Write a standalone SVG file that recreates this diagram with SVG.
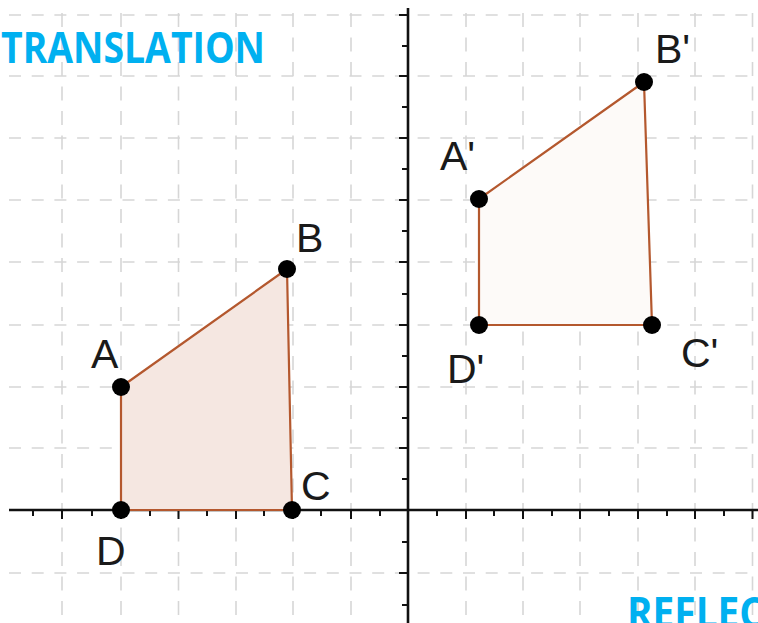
<svg xmlns="http://www.w3.org/2000/svg" width="758" height="623" viewBox="0 0 758 623">
<style>
.gh{stroke:#d6d6d6;stroke-width:1.6;stroke-dasharray:12 10.7;fill:none}
.gv{stroke:#d6d6d6;stroke-width:1.6;stroke-dasharray:14 10.5;fill:none}
.axis{stroke:#111;stroke-width:2.6;fill:none}
.tick{stroke:#111;stroke-width:2;fill:none}
.poly{stroke:#b4582e;stroke-width:2.2;stroke-linejoin:round}
.pt{fill:#000}
.lbl{font-family:"Liberation Sans",Arial,sans-serif;font-size:41px;fill:#1a1a1a}
.title{font-family:"Open Sans","Liberation Sans",sans-serif;font-weight:bold;font-size:43px;fill:#00b0f0}
</style>
<rect width="758" height="623" fill="#fff"/>
<g id="grid">
<path class="gh" d="M9 15H758M9 76H758M9 138H758M9 200H758M9 262H758M9 325H758M9 387H758M9 448H758M9 573H758"/>
<path class="gv" d="M62 13V623M121 13V623M178.5 13V623M236 13V623M293 13V623M351 13V623M466 13V623M523 13V623M580 13V623M638 13V623M695 13V623M752.5 13V623"/>
</g>
<g id="axes">
<path class="axis" d="M9 510H758M408 8V623"/>
<path class="tick" d="M33 510v6M62 510v9M92 510v6M121 510v9M150 510v6M178.5 510v9M207 510v6M236 510v9M264 510v6M293 510v9M321 510v6M351 510v9M380 510v6M437 510v6M466 510v9M494 510v6M523 510v9M552 510v6M580 510v9M609 510v6M638 510v9M667 510v6M695 510v9M724 510v6M752.5 510v9"/>
<path class="tick" d="M408 15h-9M408 46h-6M408 76h-9M408 107h-6M408 138h-9M408 169h-6M408 200h-9M408 231h-6M408 262h-9M408 294h-6M408 325h-9M408 356h-6M408 387h-9M408 418h-6M408 448h-9M408 479h-6M408 542h-6M408 573h-9M408 605h-6"/>
</g>
<g id="titles">
<text class="title" x="1" y="63" textLength="264" lengthAdjust="spacingAndGlyphs">TRANSLATION</text>
<text class="title" x="627" y="628" textLength="137" lengthAdjust="spacingAndGlyphs">REFLEC</text>
</g>
<g id="connectors">
<polygon class="poly" fill="#f5e7e1" points="121,387 287,269 292,510 121,510"/>
<polygon class="poly" fill="#fdfaf8" points="479,199 644,82 652,325 479,325"/>
</g>
<g id="node-A"><circle class="pt" cx="121" cy="387" r="9"/><text class="lbl" x="91" y="368">A</text></g>
<g id="node-B"><circle class="pt" cx="287" cy="269" r="9"/><text class="lbl" x="296" y="252">B</text></g>
<g id="node-C"><circle class="pt" cx="292" cy="510" r="9"/><text class="lbl" x="301" y="500">C</text></g>
<g id="node-D"><circle class="pt" cx="121" cy="510" r="9"/><text class="lbl" x="96" y="565">D</text></g>
<g id="node-A1"><circle class="pt" cx="479" cy="199" r="9"/><text class="lbl" x="440" y="170">A'</text></g>
<g id="node-B1"><circle class="pt" cx="644" cy="82" r="9"/><text class="lbl" x="655" y="63">B'</text></g>
<g id="node-C1"><circle class="pt" cx="652" cy="325" r="9"/><text class="lbl" x="681" y="367">C'</text></g>
<g id="node-D1"><circle class="pt" cx="479" cy="325" r="9"/><text class="lbl" x="447" y="383">D'</text></g>
</svg>
